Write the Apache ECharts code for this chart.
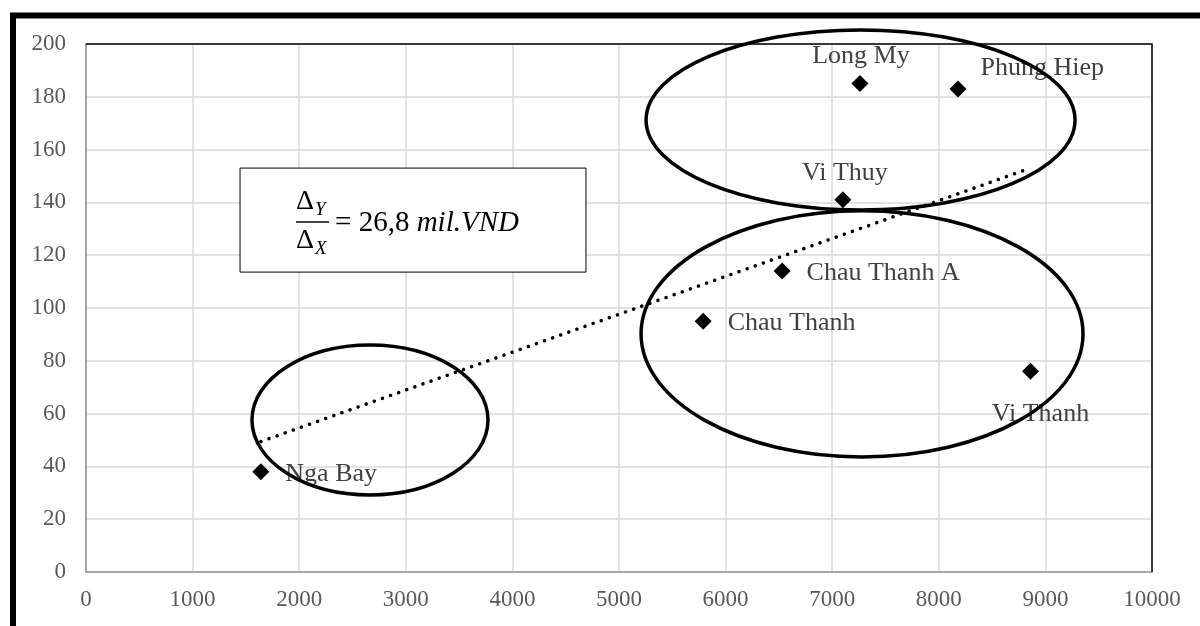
<!DOCTYPE html>
<html><head><meta charset="utf-8">
<script src="https://cdn.jsdelivr.net/npm/echarts@6/dist/echarts.min.js"></script>
<style>html,body{margin:0;padding:0;background:#fff}#c{width:1200px;height:626px}</style>
</head><body><div id="c"></div>
<script>
// ---- data ----
const districts = ['Nga Bay', 'Chau Thanh', 'Chau Thanh A', 'Vi Thuy', 'Long My', 'Phung Hiep', 'Vi Thanh'];
const xValues = [1640, 5790, 6530, 7100, 7260, 8180, 8860];
const yValues = [38, 95, 114, 141, 185, 183, 76];
const xAxisMin = 0, xAxisMax = 10000, xAxisStep = 1000;
const yAxisMin = 0, yAxisMax = 200, yAxisStep = 20;
const formulaValue = '26,8';
const formulaUnit = 'mil.VND';
// cluster ellipses in data units: [centerX, centerY, radiusX, radiusY]
const clusterTop = [7266, 171.2, 2012, 34.1];
const clusterMid = [7280, 90.2, 2073, 46.6];
const clusterLow = [2664, 57.6, 1107, 28.4];
// annotation box corners in data units: [x1, y1, x2, y2]
const formulaBox = [1445, 153, 4690, 113.6];

// ---- label placement (styling) ----
const labelLayout = {
  'Nga Bay': { position: 'right', distance: 16, offset: [0, 2] },
  'Chau Thanh': { position: 'right', distance: 16, offset: [0, 2] },
  'Chau Thanh A': { position: 'right', distance: 16, offset: [0, 2] },
  'Vi Thuy': { position: 'top', distance: 5, offset: [2, 0] },
  'Long My': { position: 'top', distance: 6, offset: [1, 0] },
  'Phung Hiep': { position: 'right', distance: 14, offset: [0, -21] },
  'Vi Thanh': { position: 'bottom', distance: 21, offset: [10, 0] }
};

// linear trend (least squares) from the data
const n = xValues.length;
const mx = xValues.reduce((a, b) => a + b, 0) / n;
const my = yValues.reduce((a, b) => a + b, 0) / n;
let sxy = 0, sxx = 0;
for (let i = 0; i < n; i++) { sxy += (xValues[i] - mx) * (yValues[i] - my); sxx += (xValues[i] - mx) ** 2; }
const slope = sxy / sxx, intercept = my - slope * mx;
const xLo = Math.min(...xValues), xHi = Math.max(...xValues);
const trendData = [[xLo, intercept + slope * xLo], [xHi, intercept + slope * xHi]];

const scatterData = districts.map((d, i) => ({
  name: d,
  value: [xValues[i], yValues[i]],
  label: Object.assign({ show: true, formatter: d }, labelLayout[d])
}));

const FONT = "'Liberation Serif', 'Times New Roman', serif";
const chart = echarts.init(document.getElementById('c'), null, { renderer: 'canvas' });
chart.setOption({
  animation: false,
  backgroundColor: '#fff',
  grid: { left: 86, right: 48, top: 44, bottom: 54 },
  xAxis: {
    type: 'value', min: xAxisMin, max: xAxisMax, interval: xAxisStep,
    axisLine: { show: true, onZero: false, lineStyle: { color: '#a6a6a6', width: 2 } },
    axisTick: { show: false },
    splitLine: { show: true, lineStyle: { color: '#d9d9d9', width: 1.5 } },
    axisLabel: { color: '#595959', fontFamily: FONT, fontSize: 23, margin: 16, formatter: v => String(v) }
  },
  yAxis: {
    type: 'value', min: yAxisMin, max: yAxisMax, interval: yAxisStep,
    axisLine: { show: true, onZero: false, lineStyle: { color: '#a6a6a6', width: 2 } },
    axisTick: { show: false },
    splitLine: { show: true, lineStyle: { color: '#d9d9d9', width: 1.5 } },
    axisLabel: { color: '#595959', fontFamily: FONT, fontSize: 23, margin: 20, formatter: v => String(v) }
  },
  series: [
    {
      type: 'line', data: trendData, symbol: 'none', silent: true, z: 3,
      lineStyle: { color: '#000', width: 3.5, type: [0.1, 8.5], cap: 'round' }
    },
    {
      type: 'scatter', data: scatterData, symbol: 'diamond', symbolSize: 17, z: 4,
      itemStyle: { color: '#000', opacity: 1 },
      label: { color: '#404040', fontFamily: FONT, fontSize: 26 }
    }
  ]
});

function px(p) { return chart.convertToPixel({ gridIndex: 0 }, p); }
function ellipse(c) {
  const ctr = px([c[0], c[1]]);
  const ex = px([c[0] + c[2], c[1]]);
  const ey = px([c[0], c[1] + c[3]]);
  return {
    type: 'ellipse', z: 100, silent: true,
    shape: { cx: ctr[0], cy: ctr[1], rx: Math.abs(ex[0] - ctr[0]), ry: Math.abs(ctr[1] - ey[1]) },
    style: { fill: 'none', stroke: '#000', lineWidth: 3.5 }
  };
}
const tl = px([xAxisMin, yAxisMax]);
const tr = px([xAxisMax, yAxisMax]);
const br = px([xAxisMax, yAxisMin]);
const b1 = px([formulaBox[0], formulaBox[1]]);
const b2 = px([formulaBox[2], formulaBox[3]]);
const bx = b1[0], by = b1[1], bw = b2[0] - b1[0], bh = b2[1] - b1[1];
const LS = "'Liberation Serif', serif";

chart.setOption({
  graphic: [
    { type: 'polyline', z: 50, silent: true, shape: { points: [tl, tr, br] }, style: { fill: 'none', stroke: '#000', lineWidth: 1.5 } },
    ellipse(clusterTop), ellipse(clusterMid), ellipse(clusterLow),
    {
      type: 'group', x: bx, y: by, z: 110,
      children: [
        { type: 'rect', shape: { x: 0, y: 0, width: bw, height: bh }, style: { fill: '#fff', stroke: '#000', lineWidth: 1 } },
        { type: 'text', x: 56, y: 34, style: { text: 'Δ', font: '28px ' + LS, fill: '#000', verticalAlign: 'middle' } },
        { type: 'text', x: 75, y: 42, style: { text: 'Y', font: 'italic 19px ' + LS, fill: '#000', verticalAlign: 'middle' } },
        { type: 'line', shape: { x1: 56, y1: 54, x2: 89, y2: 54 }, style: { stroke: '#000', lineWidth: 1.5 } },
        { type: 'text', x: 56, y: 73, style: { text: 'Δ', font: '28px ' + LS, fill: '#000', verticalAlign: 'middle' } },
        { type: 'text', x: 75, y: 81, style: { text: 'X', font: 'italic 19px ' + LS, fill: '#000', verticalAlign: 'middle' } },
        {
          type: 'text', x: 95, y: 55,
          style: {
            text: '{n|= ' + formulaValue + ' }{i|' + formulaUnit + '}',
            verticalAlign: 'middle',
            rich: {
              n: { fontFamily: LS, fontSize: 29, fill: '#000', color: '#000' },
              i: { fontFamily: LS, fontSize: 29, fontStyle: 'italic', fill: '#000', color: '#000' }
            }
          }
        }
      ]
    },
    {
      type: 'rect', z: 120, silent: true,
      shape: { x: 13, y: 15.5, width: 1220, height: 660 },
      style: { fill: 'none', stroke: '#000', lineWidth: 6 }
    }
  ]
});
</script>
</body></html>
